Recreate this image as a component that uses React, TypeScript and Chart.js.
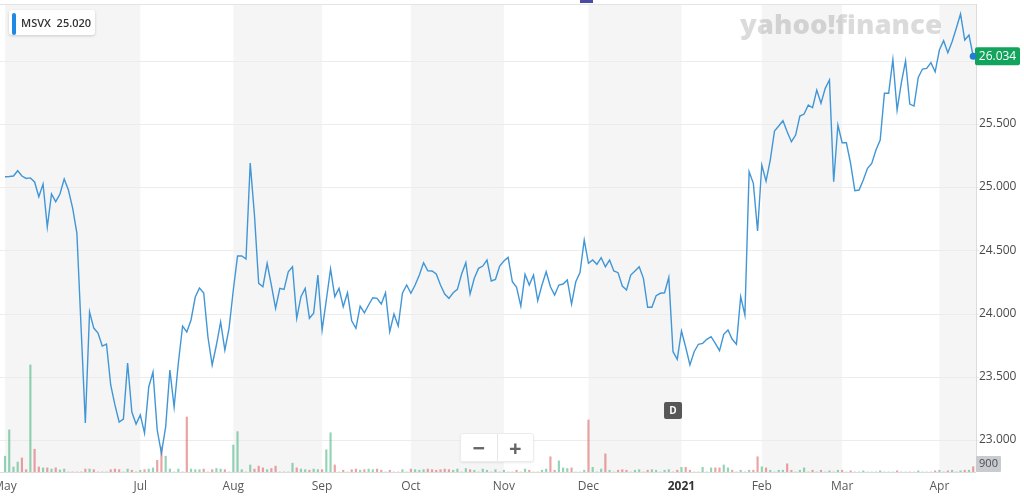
import React, { useEffect, useRef } from "react";
import { Chart, registerables } from "chart.js";

Chart.register(...registerables);

const ticker = "MSVX";
const legendValue = "25.020";
const watermark = "yahoo!finance";

const monthStarts = [0, 32, 54, 75, 96, 118, 138, 160, 179, 198, 221];
const monthLabels = ["May", "Jul", "Aug", "Sep", "Oct", "Nov", "Dec", "2021", "Feb", "Mar", "Apr"];
const boldLabels = ["2021"];
const priceTicks = [23, 23.5, 24, 24.5, 25, 25.5, 26];
const dividendIndex = 158;
const dividendLabel = "D";

const closes = [
  25.081, 25.083, 25.087, 25.129, 25.087, 25.068, 25.072, 25.04, 24.923, 25.024,
  24.684, 24.945, 24.884, 24.945, 25.063, 24.976, 24.834, 24.636, 23.885, 23.134,
  24.012, 23.885, 23.846, 23.743, 23.759, 23.435, 23.277, 23.142, 23.166, 23.609,
  23.221, 23.126, 23.198, 23.055, 23.419, 23.538, 23.079, 22.897, 23.103, 23.553,
  23.261, 23.609, 23.901, 23.854, 23.949, 24.13, 24.202, 24.162, 23.814, 23.593,
  23.751, 23.933, 23.711, 23.885, 24.186, 24.455, 24.455, 24.431, 25.19, 24.779,
  24.239, 24.212, 24.397, 24.225, 24.041, 24.199, 24.191, 24.33, 24.37, 23.962,
  24.133, 24.199, 23.962, 24.002, 24.304, 23.87, 24.107, 24.352, 24.133, 24.199,
  24.054, 24.164, 23.943, 23.883, 24.059, 24.006, 24.067, 24.125, 24.12, 24.075,
  24.164, 23.856, 23.996, 23.901, 24.16, 24.225, 24.16, 24.225, 24.304, 24.402,
  24.338, 24.336, 24.312, 24.225, 24.154, 24.12, 24.164, 24.191, 24.312, 24.402,
  24.154, 24.278, 24.357, 24.375, 24.423, 24.257, 24.27, 24.375, 24.415, 24.444,
  24.251, 24.207, 24.059, 24.31, 24.225, 24.304, 24.101, 24.225, 24.33, 24.212,
  24.146, 24.225, 24.233, 24.265, 24.075, 24.251, 24.323, 24.581, 24.397, 24.423,
  24.389, 24.441, 24.37, 24.423, 24.336, 24.323, 24.217, 24.186, 24.304, 24.336,
  24.37, 24.278, 24.049, 24.049, 24.141, 24.16, 24.164, 24.286, 23.698, 23.638,
  23.862, 23.733, 23.593, 23.698, 23.757, 23.764, 23.796, 23.817, 23.764, 23.706,
  23.836, 23.87, 23.796, 23.757, 24.133, 23.988, 25.121, 25.029, 24.652, 25.174,
  25.047, 25.213, 25.443, 25.482, 25.524, 25.437, 25.358, 25.411, 25.561, 25.577,
  25.648, 25.627, 25.767, 25.662, 25.78, 25.846, 25.042, 25.49, 25.35, 25.35,
  25.187, 24.971, 24.976, 25.055, 25.148, 25.187, 25.292, 25.372, 25.741, 25.741,
  26.009, 25.609, 25.824, 25.998, 25.656, 25.64, 25.867, 25.933, 25.938, 25.983,
  25.911, 26.083, 26.157, 26.062, 26.149, 26.255, 26.368, 26.162, 26.202, 26.034,
];

const volumes = [
  2700, 7200, 850, 1700, 2400, 400, 18300, 3900, 860, 700,
  700, 500, 700, 350, 500, 0, 0, 0, 0, 500,
  500, 400, 0, 0, 0, 400, 500, 400, 0, 500,
  300, 0, 300, 400, 500, 700, 2000, 4300, 2700, 500,
  0, 500, 0, 9400, 500, 400, 400, 500, 0, 400,
  600, 500, 400, 0, 4600, 6900, 400, 0, 1200, 500,
  1000, 700, 400, 600, 1000, 0, 0, 0, 1500, 700,
  500, 400, 300, 500, 400, 400, 3800, 6700, 1200, 0,
  300, 0, 400, 500, 300, 400, 500, 400, 500, 300,
  0, 300, 0, 0, 400, 0, 500, 400, 300, 400,
  500, 400, 300, 400, 500, 400, 300, 500, 0, 600,
  400, 300, 0, 500, 300, 0, 400, 0, 300, 0,
  0, 300, 0, 500, 300, 0, 0, 300, 500, 2600,
  300, 1900, 700, 600, 700, 0, 0, 300, 8900, 800,
  0, 500, 3100, 300, 0, 300, 400, 300, 0, 300,
  400, 0, 300, 400, 300, 0, 300, 400, 0, 300,
  800, 800, 300, 0, 0, 800, 0, 700, 700, 700,
  1200, 700, 300, 0, 300, 0, 300, 300, 2600, 900,
  700, 300, 0, 300, 300, 1400, 300, 0, 300, 700,
  0, 300, 0, 300, 0, 200, 0, 300, 300, 0,
  200, 0, 0, 200, 0, 0, 0, 200, 0, 0,
  0, 200, 0, 0, 0, 0, 200, 0, 0, 0,
  200, 300, 0, 200, 300, 0, 200, 300, 300, 900,
];

const FONT = '"Open Sans", "Liberation Sans", Arial, sans-serif';

function roundRect(ctx: CanvasRenderingContext2D, x: number, y: number, w: number, h: number, r: number) {
  ctx.beginPath();
  ctx.moveTo(x + r, y);
  ctx.lineTo(x + w - r, y);
  ctx.quadraticCurveTo(x + w, y, x + w, y + r);
  ctx.lineTo(x + w, y + h - r);
  ctx.quadraticCurveTo(x + w, y + h, x + w - r, y + h);
  ctx.lineTo(x + r, y + h);
  ctx.quadraticCurveTo(x, y + h, x, y + h - r);
  ctx.lineTo(x, y + r);
  ctx.quadraticCurveTo(x, y, x + r, y);
  ctx.closePath();
}

const decorPlugin = {
  id: "yahooDecor",
  beforeDatasetsDraw(chart: any) {
    const { ctx, chartArea } = chart;
    const xs = chart.scales.x;
    const ys = chart.scales.y;
    ctx.save();
    for (let k = 0; k < monthStarts.length; k += 2) {
      const x0 = xs.getPixelForValue(monthStarts[k]);
      const x1 = k + 1 < monthStarts.length ? xs.getPixelForValue(monthStarts[k + 1]) : chartArea.right;
      ctx.fillStyle = "#f5f5f5";
      ctx.fillRect(x0, chartArea.top, x1 - x0, chartArea.bottom - chartArea.top);
    }
    ctx.strokeStyle = "#ececec";
    ctx.lineWidth = 1;
    for (const t of priceTicks) {
      const y = Math.round(ys.getPixelForValue(t)) + 0.5;
      ctx.beginPath();
      ctx.moveTo(chartArea.left, y);
      ctx.lineTo(chartArea.right + 3, y);
      ctx.stroke();
    }
    ctx.strokeStyle = "#e4e4e4";
    ctx.beginPath();
    ctx.moveTo(chartArea.left, chartArea.top + 0.5);
    ctx.lineTo(chartArea.right, chartArea.top + 0.5);
    ctx.stroke();
    ctx.strokeStyle = "#dcdcdc";
    ctx.beginPath();
    ctx.moveTo(chartArea.right + 0.5, chartArea.top);
    ctx.lineTo(chartArea.right + 0.5, chartArea.bottom);
    ctx.stroke();
    ctx.beginPath();
    ctx.moveTo(chartArea.left, chartArea.bottom + 0.5);
    ctx.lineTo(chartArea.right, chartArea.bottom + 0.5);
    ctx.stroke();
    ctx.font = "800 26px " + FONT;
    ctx.fillStyle = "rgba(0,0,0,0.14)";
    ctx.textBaseline = "alphabetic";
    ctx.textAlign = "left";
    const w = ctx.measureText(watermark).width;
    const targetW = 202;
    ctx.translate(740, 34);
    ctx.scale(targetW / w, 1);
    ctx.fillText(watermark, 0, 0);
    ctx.restore();
  },
  afterDraw(chart: any) {
    const { ctx, chartArea } = chart;
    const xs = chart.scales.x;
    const ys = chart.scales.y;
    const yv = chart.scales.yv;
    ctx.save();
    ctx.textAlign = "center";
    ctx.textBaseline = "middle";
    monthLabels.forEach((lab, k) => {
      const x = xs.getPixelForValue(monthStarts[k]);
      const bold = boldLabels.includes(lab);
      ctx.font = (bold ? "700 " : "400 ") + "12px " + FONT;
      ctx.fillStyle = bold ? "#333333" : "#5a5a5a";
      ctx.fillText(lab, x, chartArea.bottom + 15);
    });
    ctx.textAlign = "left";
    ctx.font = "400 12px " + FONT;
    ctx.fillStyle = "#4a4a4a";
    for (const t of priceTicks) {
      const y = ys.getPixelForValue(t);
      ctx.fillText(t.toFixed(3), chartArea.right + 3, y);
    }
    const dx = xs.getPixelForValue(dividendIndex);
    ctx.fillStyle = "#575757";
    roundRect(ctx, dx - 9, 402, 18, 17, 2);
    ctx.fill();
    ctx.fillStyle = "#ffffff";
    ctx.textAlign = "center";
    ctx.font = "700 10px " + FONT;
    ctx.fillText(dividendLabel, dx, 411);
    const lastVol = volumes[volumes.length - 1];
    const vy = Math.min(yv.getPixelForValue(lastVol), chartArea.bottom - 8);
    ctx.fillStyle = "#c8cbd0";
    roundRect(ctx, chartArea.right, vy - 8, 25, 16, 1);
    ctx.fill();
    ctx.fillStyle = "#4d4d4d";
    ctx.font = "400 11px " + FONT;
    ctx.fillText(String(lastVol), chartArea.right + 12.5, vy);
    const last = closes[closes.length - 1];
    const py = ys.getPixelForValue(last);
    ctx.fillStyle = "#12a45d";
    roundRect(ctx, chartArea.right - 1, py - 9, 45, 18, 2);
    ctx.fill();
    ctx.fillStyle = "#ffffff";
    ctx.font = "400 12px " + FONT;
    ctx.fillText(last.toFixed(3), chartArea.right + 21.5, py + 0.5);
    const lx = xs.getPixelForValue(closes.length - 1);
    ctx.fillStyle = "#1f7fd0";
    ctx.beginPath();
    ctx.arc(lx, py, 3.5, 0, Math.PI * 2);
    ctx.fill();
    ctx.restore();
  },
};

export default function App() {
  const ref = useRef<HTMLCanvasElement | null>(null);
  useEffect(() => {
    document.body.style.margin = "0";
    const canvas = ref.current;
    if (!canvas) return;
    const n = closes.length;
    const volColors = volumes.map((_, i) =>
      i === 0 || closes[i] >= closes[i - 1] ? "rgba(40,170,110,0.5)" : "rgba(215,70,70,0.5)"
    );
    const chart = new Chart(canvas, {
      type: "line",
      data: {
        datasets: [
          {
            type: "line",
            label: ticker,
            data: closes.map((y, i) => ({ x: i, y })),
            borderColor: "#4196d6",
            borderWidth: 1.4,
            pointRadius: 0,
            tension: 0,
            yAxisID: "y",
            order: 1,
          } as any,
          {
            type: "bar",
            label: "Volume",
            data: volumes.map((v, i) => ({ x: i, y: v })),
            backgroundColor: volColors,
            barThickness: 1.5,
            yAxisID: "yv",
            order: 2,
          } as any,
        ],
      },
      options: {
        animation: false,
        responsive: false,
        maintainAspectRatio: false,
        layout: { padding: { left: 0, right: 48, top: 4, bottom: 30 } },
        plugins: { legend: { display: false }, tooltip: { enabled: false } },
        scales: {
          x: { type: "linear", min: -1.183, max: n - 1 + 0.66, display: false, offset: false, grid: { offset: false } },
          y: { type: "linear", min: 22.747, max: 26.447, display: false },
          yv: { type: "linear", min: 0, max: 80000, display: false },
        },
      },
      plugins: [decorPlugin],
    });
    return () => chart.destroy();
  }, []);

  return (
    <div style={{ position: "fixed", left: 0, top: 0, width: 1024, height: 502, background: "#ffffff", overflow: "hidden" }}>
      <canvas ref={ref} width={1024} height={502} style={{ position: "absolute", left: 0, top: 0 }} />
      <div style={{ position: "absolute", left: 580, top: 0, width: 13, height: 3, background: "#4b4ba3" }} />
      <div
        style={{
          position: "absolute", left: 9, top: 10, width: 86, height: 25, background: "#ffffff",
          borderRadius: 3, boxShadow: "0 1px 3px rgba(0,0,0,0.18)", fontFamily: FONT,
        }}
      >
        <div style={{ position: "absolute", left: 3, top: 3, width: 4, height: 22, background: "#1e88e5", borderRadius: 2 }} />
        <div style={{ position: "absolute", left: 12, top: 0, lineHeight: "25px", fontSize: 11, fontWeight: 600, color: "#333", whiteSpace: "nowrap" }}>
          {ticker}&nbsp;&nbsp;{legendValue}
        </div>
      </div>
      <div
        style={{
          position: "absolute", left: 460, top: 433, width: 72, height: 27, background: "rgba(255,255,255,0.92)",
          border: "1px solid #ececec", borderRadius: 3, boxShadow: "0 1px 2px rgba(0,0,0,0.08)", fontFamily: FONT,
          display: "flex", color: "#666", fontWeight: 700,
        }}
      >
        <div style={{ flex: 1, textAlign: "center", lineHeight: "26px", fontSize: 22, borderRight: "1px solid #e6e6e6" }}>−</div>
        <div style={{ flex: 1, textAlign: "center", lineHeight: "26px", fontSize: 22 }}>+</div>
      </div>
    </div>
  );
}
